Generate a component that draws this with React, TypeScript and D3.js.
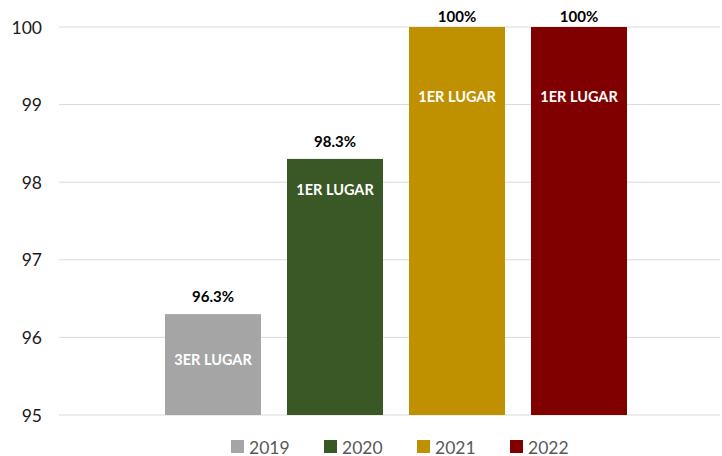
import React from "react";
import * as d3 from "d3";

const years = ["2019", "2020", "2021", "2022"];
const values = [96.3, 98.3, 100, 100];
const valueLabels = ["96.3%", "98.3%", "100%", "100%"];
const rankLabels = ["3ER LUGAR", "1ER LUGAR", "1ER LUGAR", "1ER LUGAR"];
const rankLabelAt = [95.71, 97.9, 99.1, 99.1];
const colors = ["#A5A5A5", "#3A5826", "#BF9000", "#800000"];
const yTicks = [95, 96, 97, 98, 99, 100];

const W = 722;
const H = 456;
const FONT = "Lato, 'Open Sans', sans-serif";

export default function App() {
  const y = d3.scaleLinear().domain([95, 100]).range([415, 27]);
  const x = d3
    .scaleBand<string>()
    .domain(years)
    .range([165, 627])
    .paddingInner(26 / 122)
    .paddingOuter(0);

  const legendX = d3.scalePoint<string>().domain(years).range([231, 510]);

  return (
    <svg
      width={W}
      height={H}
      style={{ position: "absolute", left: 0, top: 0, background: "#fff" }}
      fontFamily={FONT}
    >
      {yTicks.map((t) => (
        <g key={t}>
          <line x1={59} x2={720} y1={y(t)} y2={y(t)} stroke="#D9D9D9" strokeWidth={1} />
          <text
            x={42}
            y={y(t)}
            textAnchor="end"
            dominantBaseline="central"
            fontSize={17.5}
            fill="#1a1a1a"
          >
            {t}
          </text>
        </g>
      ))}
      {years.map((yr, i) => {
        const bx = x(yr)!;
        const bw = x.bandwidth();
        const top = y(values[i]);
        const cx = bx + bw / 2;
        return (
          <g key={yr}>
            <rect x={bx} y={top} width={bw} height={y(95) - top} fill={colors[i]} />
            <text
              x={cx}
              y={Math.max(top - 18, 15.5)}
              textAnchor="middle"
              dominantBaseline="central"
              fontSize={15}
              fontWeight="bold"
              fill="#000"
            >
              {valueLabels[i]}
            </text>
            <text
              x={cx}
              y={y(rankLabelAt[i])}
              textAnchor="middle"
              dominantBaseline="central"
              fontSize={14.5}
              fontWeight="bold"
              fill="#fff"
            >
              {rankLabels[i]}
            </text>
          </g>
        );
      })}
      {years.map((yr, i) => {
        const lx = legendX(yr)!;
        return (
          <g key={"lg" + yr}>
            <rect x={lx} y={440} width={13} height={13} fill={colors[i]} />
            <text
              x={lx + 18}
              y={447}
              dominantBaseline="central"
              fontSize={17.5}
              fill="#595959"
            >
              {yr}
            </text>
          </g>
        );
      })}
    </svg>
  );
}
